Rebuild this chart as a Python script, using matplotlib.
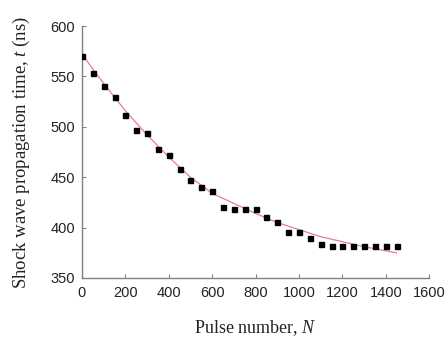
import matplotlib.pyplot as plt

plt.rcParams['mathtext.fontset'] = 'custom'
plt.rcParams['mathtext.it'] = 'Liberation Serif:italic'
plt.rcParams['mathtext.rm'] = 'Liberation Serif'

# measured points (pulse number, propagation time in ns)
pulses = [0, 50, 100, 150, 200, 250, 300, 350, 400, 450, 500, 550, 600, 650, 700,
          750, 800, 850, 900, 950, 1000, 1050, 1100, 1150, 1200, 1250, 1300, 1350, 1400, 1450]
times = [570, 553, 541, 530, 512, 497, 494, 478, 472, 458, 447, 440, 436, 420, 418,
         418, 418, 411, 406, 396, 396, 390, 384, 382, 382, 382, 382, 382, 382, 382]

# fitted trend curve
fit_n = [0, 100, 200, 250, 300, 400, 500, 600, 700, 800, 900, 1000, 1100, 1200, 1300, 1400, 1450]
fit_t = [572, 543, 516, 504, 492, 470, 450, 434, 424, 414, 405, 398, 391, 386, 381, 377, 375]

serif = 'Liberation Serif'
sans = 'Liberation Sans'

fig = plt.figure(figsize=(4.48, 3.39), dpi=100)
ax = fig.add_axes([0.183, 0.180, 0.775, 0.743])

ax.plot(fit_n, fit_t, color='#e57f8c', lw=0.9, zorder=2)
ax.plot(pulses, times, 's', color='black', ms=3.6, zorder=3)

ax.set_xlim(0, 1600)
ax.set_ylim(350, 600)
ax.set_xticks(range(0, 1601, 200))
ax.set_yticks(range(350, 601, 50))

for s in ['top', 'right']:
    ax.spines[s].set_visible(False)
for s in ['left', 'bottom']:
    ax.spines[s].set_color('#808080')
    ax.spines[s].set_linewidth(1.0)

ax.tick_params(direction='in', length=3, color='#808080', labelsize=10.5, labelcolor='#222222')
ax.tick_params(axis='x', pad=6)
ax.tick_params(axis='y', pad=5)
for lbl in ax.get_xticklabels() + ax.get_yticklabels():
    lbl.set_fontfamily(sans)

ax.set_xlabel(r'Pulse number, $N$', fontsize=13, family=serif, labelpad=13, color='#222222')
ax.set_ylabel(r'Shock wave propagation time, $t$ (ns)', fontsize=13.5, family=serif,
              labelpad=13, color='#222222')

fig.savefig('out.png', dpi=100)
